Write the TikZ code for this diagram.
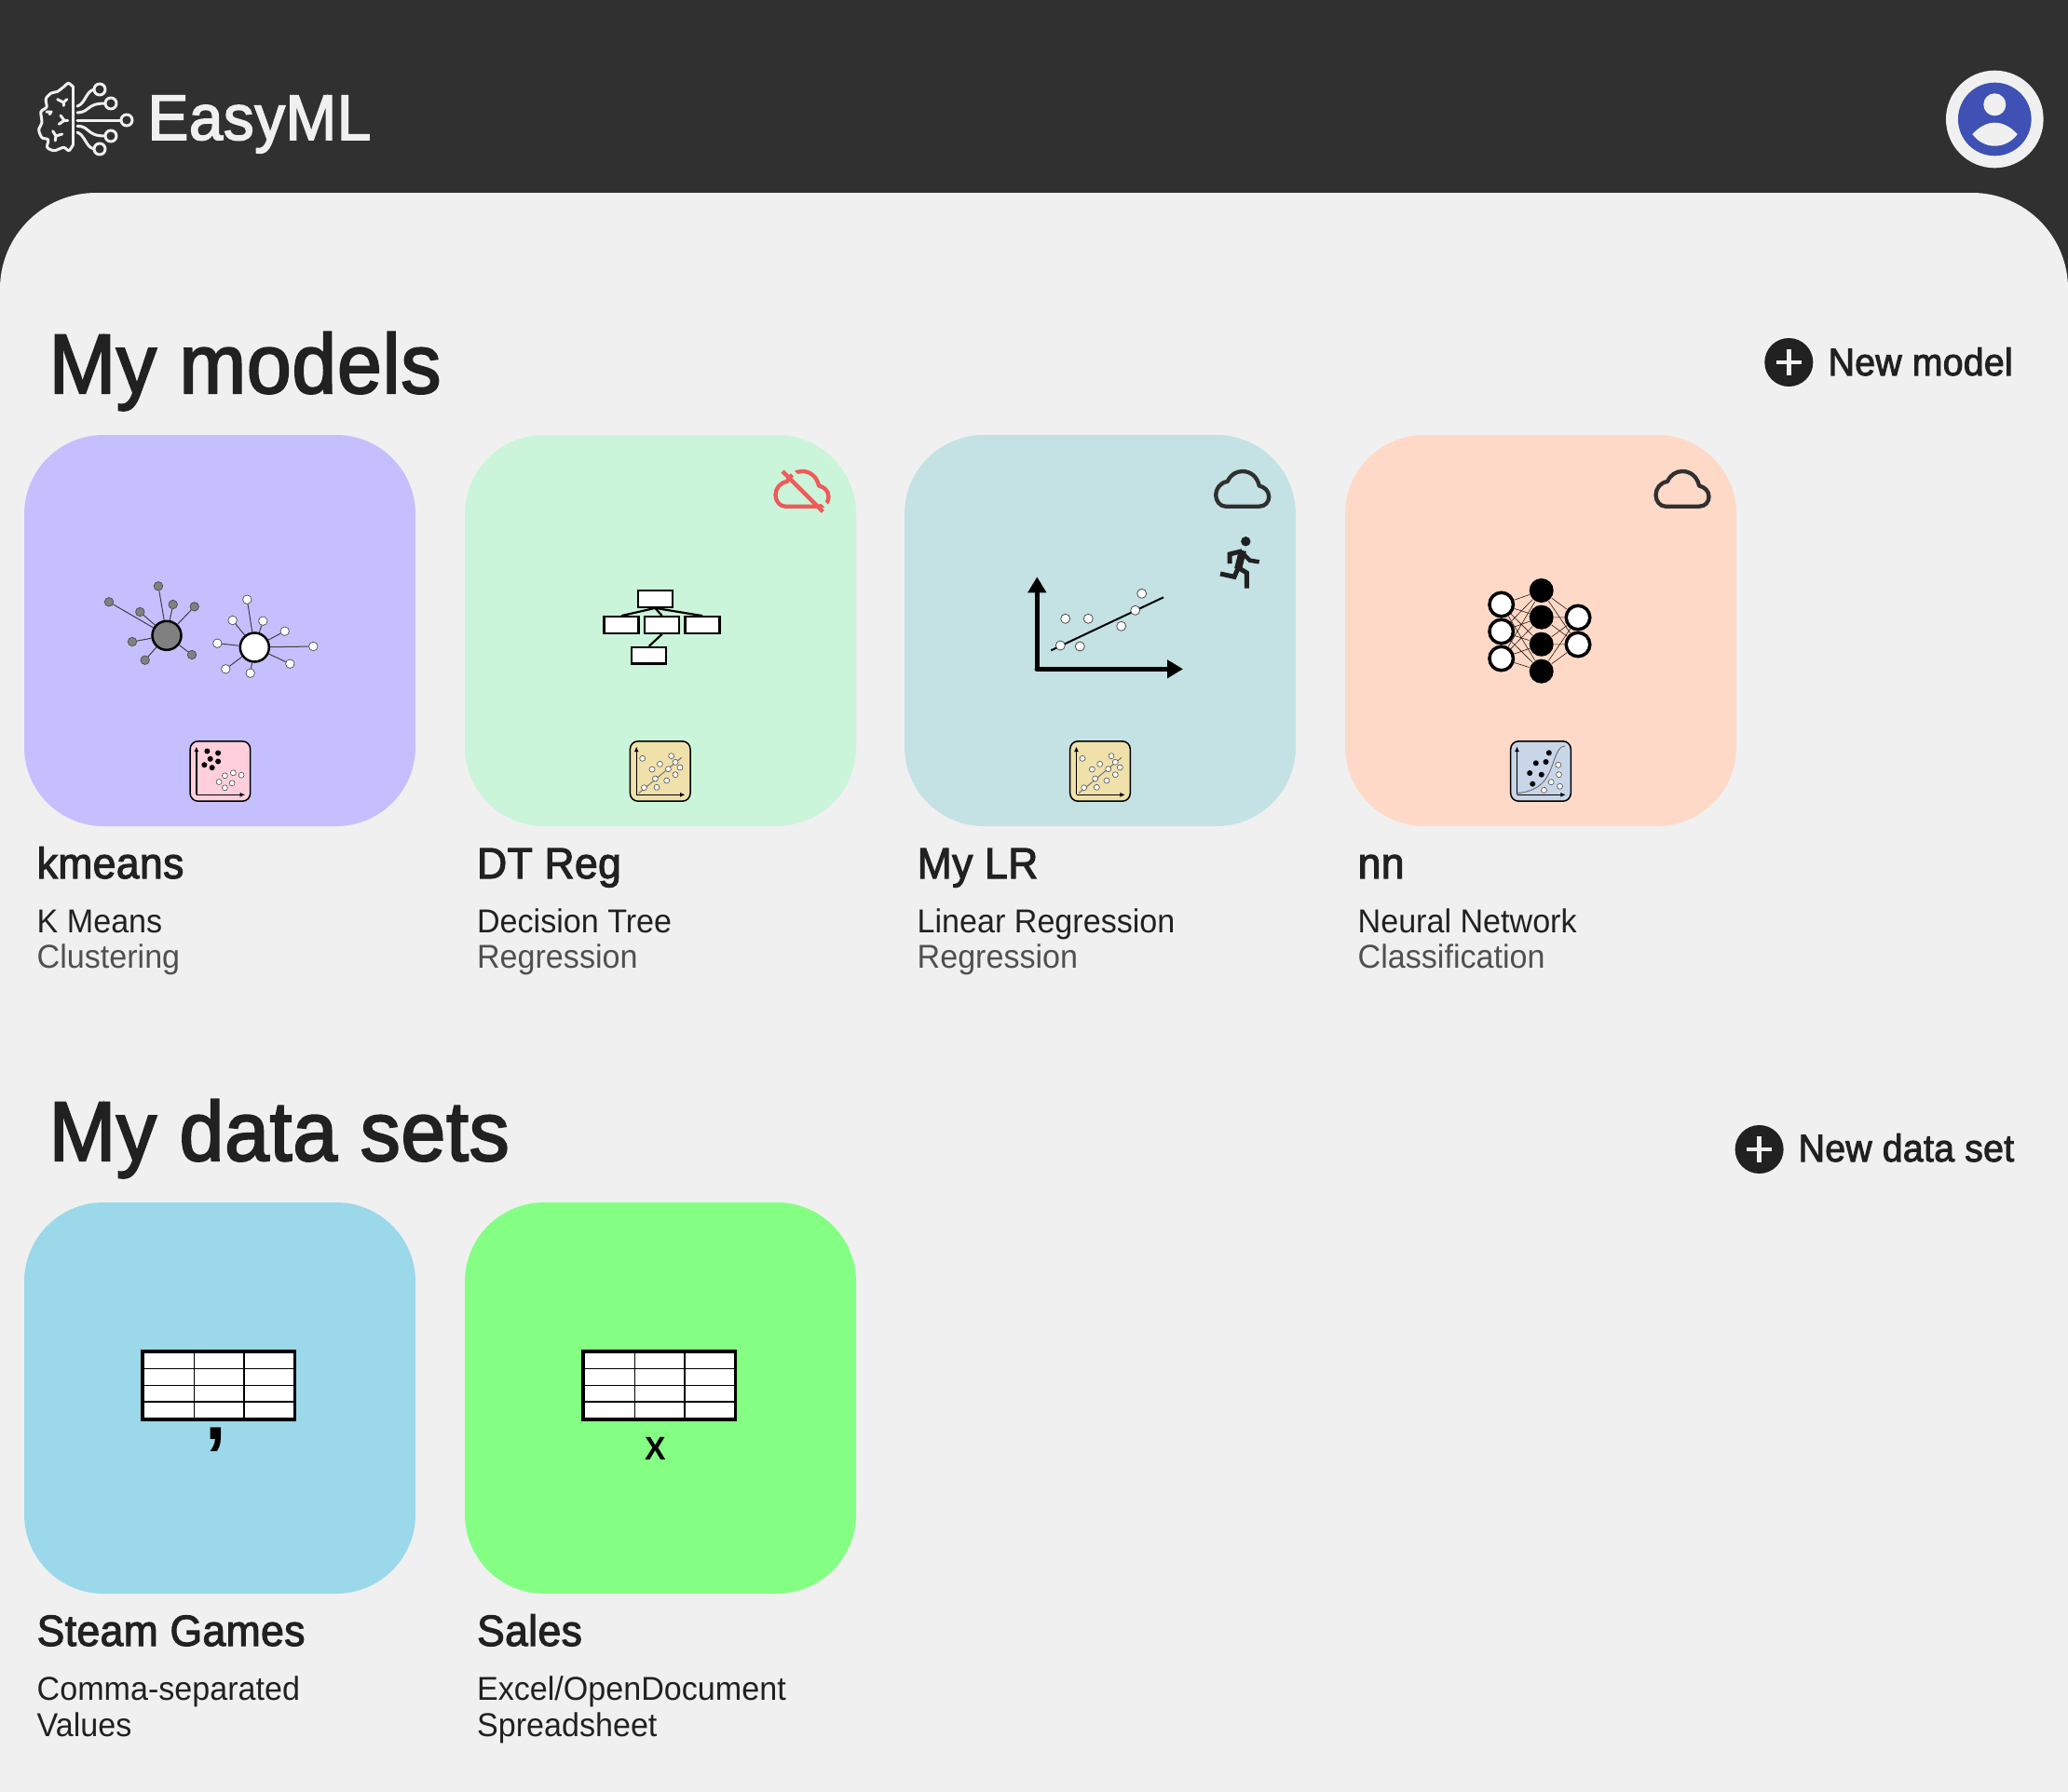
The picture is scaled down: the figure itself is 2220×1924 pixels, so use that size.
\documentclass[tikz,border=0pt]{standalone}
\usepackage{fontspec}
\usetikzlibrary{arrows.meta}
\setmainfont[FakeStretch=0.96]{Liberation Sans}
\newfontfamily\medfont[FakeStretch=0.95, FakeBold=2.4, LetterSpace=0.9]{Liberation Sans}
\definecolor{headdark}{HTML}{303030}
\definecolor{panelgray}{HTML}{F0F0F0}
\definecolor{inkdark}{HTML}{212121}
\definecolor{inklight}{HTML}{505050}
\definecolor{avatarblue}{HTML}{3F51B5}
\definecolor{cloudred}{HTML}{F05A5A}
\definecolor{cardpurple}{HTML}{C5BFFF}
\definecolor{cardmint}{HTML}{CAF5DA}
\definecolor{cardteal}{HTML}{C4E2E3}
\definecolor{cardpeach}{HTML}{FFD9C7}
\definecolor{cardblue}{HTML}{9BD8EA}
\definecolor{cardlime}{HTML}{84FF84}
\definecolor{iconpink}{HTML}{FFCFDC}
\definecolor{iconsand}{HTML}{F0E0AA}
\definecolor{iconsteel}{HTML}{C8D6E8}
\definecolor{dotgray}{HTML}{808080}
\tikzset{
  card/.style={rounded corners=0.85cm},
  logoline/.style={draw=panelgray, line width=0.03cm, line cap=round, line join=round},
  heading/.style={anchor=base west, inner sep=0, text=inkdark, font=\medfont\fontsize{25.7}{30}\selectfont},
  action/.style={anchor=base west, inner sep=0, text=inkdark, font=\medfont\fontsize{11.7}{14}\selectfont},
  cardtitle/.style={anchor=base west, inner sep=0, text=inkdark, font=\medfont\fontsize{13.3}{16}\selectfont},
  cardkind/.style={anchor=base west, inner sep=0, text=inkdark, font=\fontsize{10.1}{12}\selectfont},
  cardtask/.style={anchor=base west, inner sep=0, text=inklight, font=\fontsize{10.1}{12}\selectfont},
  hubgray/.style={circle, draw=black, fill=dotgray, line width=0.025cm, minimum size=0.31cm, inner sep=0},
  hubwhite/.style={hubgray, fill=white},
  leafgray/.style={circle, draw=black!70, fill=dotgray, line width=0.007cm, minimum size=0.095cm, inner sep=0},
  leafwhite/.style={leafgray, fill=white},
  spoke/.style={draw=black!75, line width=0.01cm},
  treebox/.style={draw=black, fill=white, line width=0.022cm, minimum width=0.37cm, minimum height=0.175cm, inner sep=0},
  treeline/.style={draw=black, line width=0.022cm},
  nnwhite/.style={circle, draw=black, fill=white, line width=0.035cm, minimum size=0.255cm, inner sep=0},
  nnblack/.style={circle, fill=black, minimum size=0.26cm, inner sep=0},
  nnline/.style={draw=black!80!brown, line width=0.006cm},
  dotw/.style={draw=black!70, fill=white, line width=0.006cm},
  dotk/.style={fill=black},
  plotdot/.style={circle, draw=black!70, fill=white, line width=0.008cm, minimum size=0.1cm, inner sep=0},
  iconframe/.pic={
    \draw[draw=black, fill=#1, line width=0.015cm, rounded corners=0.085cm] (-32.3,-32.2) rectangle (32.3,32.2);
    \draw[black, line width=0.012cm, -{Latex[length=0.055cm, width=0.05cm]}] (-25.5,25.3) -- (-25.5,-26.5);
    \draw[black, line width=0.012cm, -{Latex[length=0.055cm, width=0.05cm]}] (-25.5,25.3) -- (26.8,25.3);
  },
  regicon/.pic={
    \pic {iconframe=iconsand};
    \draw[black!55, line width=0.01cm] (-23,23.7) -- (23,-14.7);
    \draw[dotw] (-19,-13.7) circle [radius=0.03cm];
    \draw[dotw] (12,-16.3) circle [radius=0.03cm];
    \draw[dotw] (16.3,-9.7) circle [radius=0.03cm];
    \draw[dotw] (21.3,-4) circle [radius=0.03cm];
    \draw[dotw] (-0.3,-7.7) circle [radius=0.03cm];
    \draw[dotw] (-8.7,-2) circle [radius=0.03cm];
    \draw[dotw] (8.7,-2.3) circle [radius=0.03cm];
    \draw[dotw] (16.3,3.7) circle [radius=0.03cm];
    \draw[dotw] (-5.3,8) circle [radius=0.03cm];
    \draw[dotw] (7,10) circle [radius=0.03cm];
    \draw[dotw] (-17.3,17.7) circle [radius=0.03cm];
    \draw[dotw] (-3.7,17.3) circle [radius=0.03cm];
  },
  cloudicon/.pic={
    \draw[#1, line width=0.043cm, line join=round] (-18,18.7) -- (18,18.7)
      .. controls (25,18.7) and (28.5,13.5) .. (28.5,8.5)
      .. controls (28.5,2) and (24,-2) .. (18,-3.5)
      .. controls (16,-13) and (9,-19) .. (0,-19)
      .. controls (-7,-19) and (-13,-15) .. (-16,-8)
      .. controls (-24,-7) and (-28.5,0) .. (-28.5,6.5)
      .. controls (-28.5,13) and (-24,18.7) .. (-18,18.7) -- cycle;
  },
  tableicon/.pic={
    \fill[white] (0,0) rectangle (163.4,73);
    \draw[black, line width=0.014cm] (55.5,0) -- (55.5,73);
    \draw[black, line width=0.014cm] (108.8,0) -- (108.8,73);
    \draw[black, line width=0.014cm] (0,18.3) -- (163.4,18.3);
    \draw[black, line width=0.014cm] (0,36.3) -- (163.4,36.3);
    \draw[black, line width=0.014cm] (0,54) -- (163.4,54);
    \draw[black, line width=0.036cm] (0,0) rectangle (163.4,73);
  },
  plusicon/.pic={
    \fill[inkdark] (0,0) circle [radius=0.26cm];
    \draw[panelgray, line width=0.045cm] (-13.7,0) -- (13.7,0);
    \draw[panelgray, line width=0.045cm] (0,-13.7) -- (0,13.7);
  }
}

\begin{document}
\begin{tikzpicture}[x=0.01cm, y=-0.01cm]
  \useasboundingbox (0,0) rectangle (2220,1924);
  \fill[headdark] (0,0) rectangle (2220,1924);
  \fill[panelgray] (0,1924) [rounded corners=1.03cm] -- (0,207) -- (2220,207) [sharp corners] -- (2220,1924) -- cycle;

  % logo
  \draw[logoline] plot[smooth] coordinates {(78.7,155) (74,161.7) (68.3,158.3) (58.3,161.7) (50.7,158.3) (51.7,150) (45,147.7) (41.7,139.3) (45,131.7) (44,120) (50,115) (49.3,106) (55,100) (61.7,98.3) (69,92.7) (73.3,89.3) (78.7,93.3)};
  \draw[logoline] (78.7,93.3) -- (78.7,155);
  \draw[logoline] (61.7,106.7) -- (68.3,110) -- (71.7,106.7) (68.3,110) -- (68.3,113.3);
  \draw[logoline] (65,124) -- (69,129.3) -- (63.3,133.3) (69,129.3) -- (72.7,129.3);
  \draw[logoline] (56.7,140.7) -- (60,146) -- (66.7,144) (60,146) -- (59.3,151);
  \draw[logoline] (50,120) -- (55,120) -- (53.3,122.7);
  \draw[logoline] (107,96) circle [radius=0.06cm];
  \draw[logoline] (119,111) circle [radius=0.06cm];
  \draw[logoline] (136,129) circle [radius=0.06cm];
  \draw[logoline] (119,146) circle [radius=0.06cm];
  \draw[logoline] (107,160) circle [radius=0.06cm];
  \draw[logoline] (83,114) .. controls (92,111) and (92,98) .. (101,96);
  \draw[logoline] (83,121) .. controls (98,120) and (92,111) .. (113,111);
  \draw[logoline] (83,129) -- (130,129);
  \draw[logoline] (83,135.3) .. controls (98,136) and (92,146) .. (113,146);
  \draw[logoline] (83,142) .. controls (92,146) and (92,158) .. (101,160);
  \node[anchor=base west, inner sep=0, text=panelgray, font=\medfont\fontsize{19.6}{24}\selectfont] (brand) at (158,150) {EasyML};

  % avatar
  \fill[panelgray] (2141.3,128) circle [radius=0.523cm];
  \fill[avatarblue] (2141.3,128) circle [radius=0.393cm];
  \fill[panelgray] (2141.3,112.3) circle [radius=0.12cm];
  \fill[panelgray] (2117.3,144) .. controls (2124,137) and (2132,131.7) .. (2141.3,131.7)
    .. controls (2151,131.7) and (2159,137) .. (2165.7,144)
    .. controls (2160,152) and (2151,156.7) .. (2141.3,156.7)
    .. controls (2132,156.7) and (2123,152) .. (2117.3,144) -- cycle;

  % my models
  \node[heading] (models) at (52,422) {My models};
  \pic at (1920.3,389) {plusicon};
  \node[action] (newmodel) at (1962,403) {New model};

  \fill[card, cardpurple] (26,467) rectangle (446,887);
  \fill[card, cardmint] (499,467) rectangle (919,887);
  \fill[card, cardteal] (971,467) rectangle (1391,887);
  \fill[card, cardpeach] (1444,467) rectangle (1864,887);

  % clusters
  \node[hubgray] (ga) at (179,682.3) {};
  \node[hubwhite] (wa) at (273.3,695) {};
  \node[leafgray] (g1) at (170,629.3) {};
  \node[leafgray] (g2) at (117,646.3) {};
  \node[leafgray] (g3) at (150.3,657) {};
  \node[leafgray] (g4) at (185.7,649) {};
  \node[leafgray] (g5) at (208.7,651.3) {};
  \node[leafgray] (g6) at (142,689) {};
  \node[leafgray] (g7) at (155.7,708.7) {};
  \node[leafgray] (g8) at (206,703) {};
  \node[leafwhite] (w1) at (265.3,643.7) {};
  \node[leafwhite] (w2) at (249.7,666) {};
  \node[leafwhite] (w3) at (282.3,666.7) {};
  \node[leafwhite] (w4) at (305.7,677.7) {};
  \node[leafwhite] (w5) at (233.3,690.7) {};
  \node[leafwhite] (w6) at (336.3,694) {};
  \node[leafwhite] (w7) at (311.3,712.7) {};
  \node[leafwhite] (w8) at (242.3,718.3) {};
  \node[leafwhite] (w9) at (268.7,722.7) {};
  \draw[spoke] (ga) -- (g1) (ga) -- (g2) (ga) -- (g3) (ga) -- (g4) (ga) -- (g5) (ga) -- (g6) (ga) -- (g7) (ga) -- (g8);
  \draw[spoke] (wa) -- (w1) (wa) -- (w2) (wa) -- (w3) (wa) -- (w4) (wa) -- (w5) (wa) -- (w6) (wa) -- (w7) (wa) -- (w8) (wa) -- (w9);

  \pic at (236.4,828) {iconframe=iconpink};
  \fill[dotk] (222.4,806.5) circle [radius=0.03cm];
  \fill[dotk] (234.1,808.5) circle [radius=0.03cm];
  \fill[dotk] (225.7,814.8) circle [radius=0.03cm];
  \fill[dotk] (234.1,817.5) circle [radius=0.03cm];
  \fill[dotk] (219.4,821.2) circle [radius=0.03cm];
  \fill[dotk] (227.7,824.2) circle [radius=0.03cm];
  \draw[dotw] (241.4,832.8) circle [radius=0.03cm];
  \draw[dotw] (250.4,829.8) circle [radius=0.03cm];
  \draw[dotw] (259.1,832.2) circle [radius=0.03cm];
  \draw[dotw] (235.1,839.5) circle [radius=0.03cm];
  \draw[dotw] (249.1,840.8) circle [radius=0.03cm];
  \draw[dotw] (241.4,845.8) circle [radius=0.03cm];

  % decision tree
  \node[treebox] (root) at (703.3,643) {};
  \node[treebox] (left) at (667,671) {};
  \node[treebox] (mid) at (710.7,671) {};
  \node[treebox] (right) at (754,671) {};
  \node[treebox] (leaf) at (696.7,703.7) {};
  \draw[treeline] (root.south) -- (left.north);
  \draw[treeline] (root.south) -- (mid.north);
  \draw[treeline] (root.south) -- (right.north);
  \draw[treeline] (mid.south) -- (leaf.north);

  \pic at (861,525) {cloudicon=cloudred};
  \draw[cardmint, line width=0.045cm] (848,504) -- (888,544);
  \draw[cloudred, line width=0.043cm] (840,506) -- (883.3,549.3);
  \pic at (708.7,828) {regicon};

  % linear regression
  \draw[black, line width=0.056cm, -{Triangle[length=0.17cm, width=0.19cm]}] (1113.3,718.3) -- (1113.3,619.3);
  \draw[black, line width=0.056cm, line cap=round, -{Triangle[length=0.17cm, width=0.19cm]}] (1113.3,718.3) -- (1270,718.3);
  \coordinate (fitstart) at (1128.3,698.3);
  \coordinate (fitend) at (1249,641.3);
  \draw[black, line width=0.02cm] (fitstart) -- (fitend);
  \node[plotdot] (p1) at (1138.3,693) {};
  \node[plotdot] (p2) at (1159.3,694) {};
  \node[plotdot] (p3) at (1143.7,664.3) {};
  \node[plotdot] (p4) at (1168.3,664.3) {};
  \node[plotdot] (p5) at (1203.7,672.3) {};
  \node[plotdot] (p6) at (1218.7,655.3) {};
  \node[plotdot] (p7) at (1225.7,637.3) {};

  \pic at (1333.7,525) {cloudicon=headdark};
  \fill[inkdark] (1337.3,581.3) circle [radius=0.052cm];
  \draw[inkdark, line width=0.05cm, line join=miter] (1320,605) -- (1320,595) -- (1333.3,591.7);
  \draw[inkdark, line width=0.045cm, line join=miter] (1333.3,593.3) -- (1341.7,601.7) -- (1351.7,603.3);
  \draw[inkdark, line width=0.08cm] (1334,591) -- (1329,611);
  \draw[inkdark, line width=0.05cm, line join=miter] (1330,608) -- (1325,619.3) -- (1310,616);
  \draw[inkdark, line width=0.05cm, line join=miter] (1330,610) -- (1338.3,615) -- (1338.3,631.7);
  \pic at (1181,828) {regicon};

  % neural network
  \node[nnwhite] (i1) at (1611.7,649) {};
  \node[nnwhite] (i2) at (1611.7,678) {};
  \node[nnwhite] (i3) at (1611.7,707) {};
  \node[nnblack] (h1) at (1654.7,634) {};
  \node[nnblack] (h2) at (1654.7,662.7) {};
  \node[nnblack] (h3) at (1654.7,691.7) {};
  \node[nnblack] (h4) at (1654.7,720.7) {};
  \node[nnwhite] (o1) at (1694,663) {};
  \node[nnwhite] (o2) at (1694,692) {};
  \draw[nnline] (i1) -- (h1) (i1) -- (h2) (i1) -- (h3) (i1) -- (h4);
  \draw[nnline] (i2) -- (h1) (i2) -- (h2) (i2) -- (h3) (i2) -- (h4);
  \draw[nnline] (i3) -- (h1) (i3) -- (h2) (i3) -- (h3) (i3) -- (h4);
  \draw[nnline] (h1) -- (o1) (h1) -- (o2) (h2) -- (o1) (h2) -- (o2);
  \draw[nnline] (h3) -- (o1) (h3) -- (o2) (h4) -- (o1) (h4) -- (o2);

  \pic at (1806,525) {cloudicon=headdark};
  \pic at (1654,828) {iconframe=iconsteel};
  \draw[black!55, line width=0.01cm] (1628.5,851.7) .. controls (1656,849) and (1662,834) .. (1667,820) .. controls (1671,808) and (1674,801) .. (1680,801);
  \fill[dotk] (1662.8,808.3) circle [radius=0.03cm];
  \fill[dotk] (1648.8,819.3) circle [radius=0.03cm];
  \fill[dotk] (1659.5,818) circle [radius=0.03cm];
  \fill[dotk] (1642.2,830) circle [radius=0.03cm];
  \fill[dotk] (1654.8,831.7) circle [radius=0.03cm];
  \fill[dotk] (1645.2,841.7) circle [radius=0.03cm];
  \draw[dotw] (1672.8,821.3) circle [radius=0.03cm];
  \draw[dotw] (1673.5,831.7) circle [radius=0.03cm];
  \draw[dotw] (1665.2,839.7) circle [radius=0.03cm];
  \draw[dotw] (1674.5,844.3) circle [radius=0.03cm];
  \draw[dotw] (1657.5,848.3) circle [radius=0.03cm];

  % card texts
  \node[cardtitle] (t1) at (39,943) {kmeans};
  \node[cardkind] (k1) at (39,1001) {K Means};
  \node[cardtask] (c1) at (39,1039) {Clustering};
  \node[cardtitle] (t2) at (511.4,943) {DT Reg};
  \node[cardkind] (k2) at (511.4,1001) {Decision Tree};
  \node[cardtask] (c2) at (511.4,1039) {Regression};
  \node[cardtitle] (t3) at (984,943) {My LR};
  \node[cardkind] (k3) at (984,1001) {Linear Regression};
  \node[cardtask] (c3) at (984,1039) {Regression};
  \node[cardtitle] (t4) at (1457,943) {nn};
  \node[cardkind] (k4) at (1457,1001) {Neural Network};
  \node[cardtask] (c4) at (1457,1039) {Classification};

  % my data sets
  \node[heading] (datasets) at (52,1246) {My data sets};
  \pic at (1888.6,1234) {plusicon};
  \node[action] (newdata) at (1930,1247) {New data set};

  \fill[card, cardblue] (26,1291) rectangle (446,1711);
  \fill[card, cardlime] (499,1291) rectangle (919,1711);
  \pic at (153,1451) {tableicon};
  \pic at (626,1451) {tableicon};
  \node[inner sep=0, text=black, font=\bfseries\fontsize{24}{26}\selectfont, anchor=base] (comma) at (232,1545) {,};
  \node[inner sep=0, text=black, font=\bfseries\fontsize{10}{12}\selectfont, anchor=base] (xmark) at (704,1567) {X};

  \node[cardtitle] (t5) at (39,1767) {Steam Games};
  \node[cardkind] (k5) at (39,1825) {Comma-separated};
  \node[cardkind] (c5) at (39,1864) {Values};
  \node[cardtitle] (t6) at (511.4,1767) {Sales};
  \node[cardkind] (k6) at (511.4,1825) {Excel/OpenDocument};
  \node[cardkind] (c6) at (511.4,1864) {Spreadsheet};
\end{tikzpicture}
\end{document}
